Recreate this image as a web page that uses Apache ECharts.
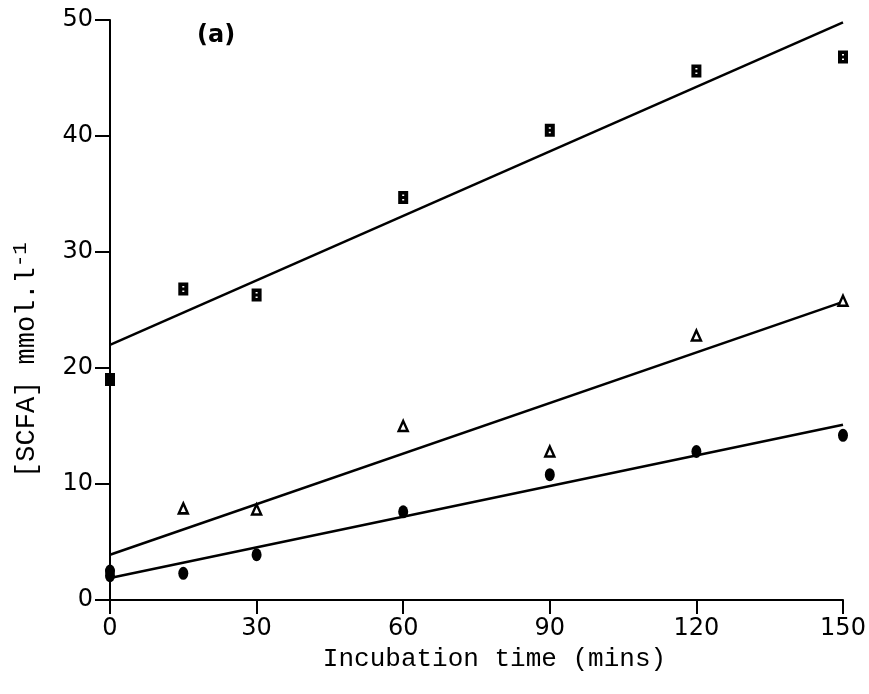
<!DOCTYPE html>
<html><head><meta charset="utf-8">
<script src="https://cdn.jsdelivr.net/npm/echarts@6/dist/echarts.min.js"></script>
<style>html,body{margin:0;padding:0;background:#fff}#c{width:869px;height:694px}</style>
</head><body><div id="c"></div>
<script>
const xTicks = [0, 30, 60, 90, 120, 150];
const squareData = [[0,19.0],[15,26.8],[30,26.3],[60,34.7],[90,40.5],[120,45.6],[150,46.8]];
const triangleData = [[15,7.9],[30,7.8],[60,15.0],[90,12.8],[120,22.8],[150,25.8]];
const circleData = [[0,2.5],[0,2.1],[15,2.3],[30,3.9],[60,7.6],[90,10.8],[120,12.8],[150,14.2]];
const squareFit = [[0,22.0],[150,49.8]];
const triangleFit = [[0,3.9],[150,25.7]];
const circleFit = [[0,1.9],[150,15.1]];

const chart = echarts.init(document.getElementById('c'));
const lineStyle = {color:'#000', width:2.5};
function fit(d){return {type:'line', data:d, symbol:'none', lineStyle, silent:true, z:2};}
const squareSymbol = 'path://M0,0H10V13H0Z M4,3.5V5H6V3.5Z M4,8V9.5H6V8Z';
chart.setOption({
  backgroundColor:'#fff',
  animation:false,
  title:{text:'(a)', left:192, top:19, textStyle:{fontFamily:'DejaVu Sans', fontWeight:'bold', fontSize:24, color:'#000'}},
  grid:{left:110, right:26, top:20, bottom:94},
  xAxis:{type:'value', min:0, max:150, interval:30,
    name:'Incubation time (mins)', nameLocation:'middle', nameGap:46,
    nameTextStyle:{fontFamily:'Liberation Mono', fontSize:26, color:'#000', padding:[0,0,0,36]},
    axisLine:{show:true, lineStyle:{color:'#000', width:2}},
    axisTick:{show:true, length:14, lineStyle:{color:'#000', width:2}},
    axisLabel:{fontFamily:'DejaVu Sans', fontSize:24, color:'#000', margin:17},
    splitLine:{show:false}},
  yAxis:{type:'value', min:0, max:50, interval:10,
    name:'[SCFA] mmol.l{sup|-1}', nameLocation:'middle', nameGap:67,
    nameTextStyle:{fontFamily:'Liberation Mono', fontSize:27, color:'#000', padding:[0,100,0,0],
      rich:{sup:{fontFamily:'Liberation Mono', fontSize:21, color:'#000', verticalAlign:'top', padding:[0,0,12,0]}}},
    axisLine:{show:true, lineStyle:{color:'#000', width:2}},
    axisTick:{show:true, length:15, lineStyle:{color:'#000', width:2}},
    axisLabel:{fontFamily:'DejaVu Sans', fontSize:24, color:'#000', margin:17},
    splitLine:{show:false}},
  series:[
    fit(squareFit), fit(triangleFit), fit(circleFit),
    {type:'scatter', data:squareData, symbol:squareSymbol, symbolSize:[10,13],
      itemStyle:{color:'#000', opacity:1}, z:3},
    {type:'scatter', data:triangleData, symbol:'triangle', symbolSize:[9,10],
      itemStyle:{color:'#fff', borderColor:'#000', borderWidth:2.5, opacity:1}, z:3},
    {type:'scatter', data:circleData, symbol:'circle', symbolSize:[10,13],
      itemStyle:{color:'#000', opacity:1}, z:3}
  ]
});
</script></body></html>
